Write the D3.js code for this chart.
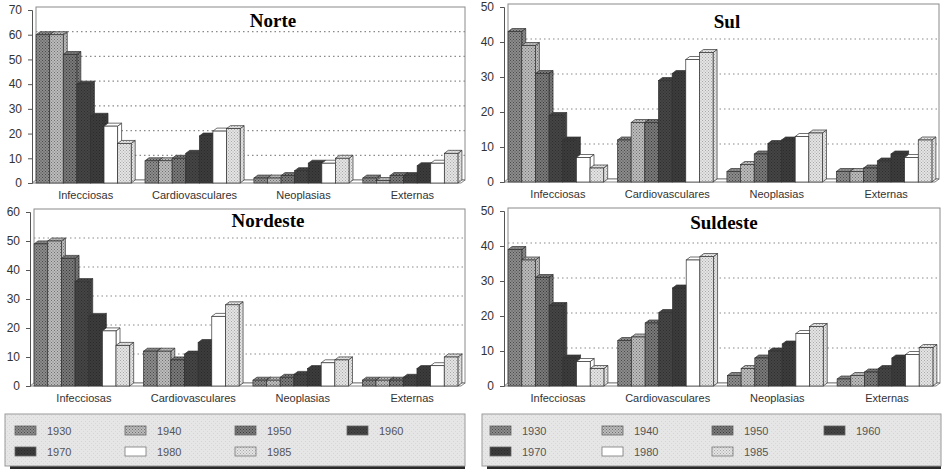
<!DOCTYPE html>
<html><head><meta charset="utf-8">
<script src="https://cdn.jsdelivr.net/npm/d3@7"></script>
<style>
html,body{margin:0;padding:0;background:#fff;}
svg{display:block;}
</style></head>
<body>
<svg id="chart" width="944" height="475"></svg>
<script>
// ---- data ----
const years = ["1930","1940","1950","1960","1970","1980","1985"];
const causes = ["Infecciosas","Cardiovasculares","Neoplasias","Externas"];
const regionNames = ["Norte","Sul","Nordeste","Suldeste"];
const norte    = [[60,60,52,40,27,23,16],[9,9,10,12,19,21,22],[2,2,3,5,8,8,10],[2,1,3,3,7,8,12]];
const sul      = [[43,39,31,19,12,7,4],[12,17,17,29,31,35,37],[3,5,8,11,12,13,14],[3,3,4,6,8,7,12]];
const nordeste = [[49,50,44,36,24,19,14],[12,12,9,11,15,24,28],[2,2,3,4,6,8,9],[2,2,2,3,6,7,10]];
const suldeste = [[39,36,31,23,8,7,5],[13,14,18,21,28,36,37],[3,5,8,10,12,15,17],[2,3,4,5,8,9,11]];
const yMaxes = [70,50,60,50];

// ---- styles ----
const svg = d3.select("#chart");
const defs = svg.append("defs");
const patSpecs = [
  {bg:"#8c8c8c", dot:"#4a4a4a"},
  {bg:"#bcbcbc", dot:"#707070"},
  {bg:"#7a7a7a", dot:"#3a3a3a"},
  {bg:"#454545", dot:"#2e2e2e"},
  {bg:"#3c3c3c", dot:"#2a2a2a"},
  {bg:"#ffffff", dot:"#ffffff"},
  {bg:"#e4e4e4", dot:"#a8a8a8"}
];
patSpecs.forEach((p,i)=>{
  const pat = defs.append("pattern").attr("id","pat"+i)
    .attr("width",3).attr("height",3).attr("patternUnits","userSpaceOnUse");
  pat.append("rect").attr("width",3).attr("height",3).attr("fill",p.bg);
  pat.append("rect").attr("x",0).attr("y",0).attr("width",1).attr("height",1).attr("fill",p.dot);
  pat.append("rect").attr("x",1.5).attr("y",1.5).attr("width",1).attr("height",1).attr("fill",p.dot);
});
const legBg = defs.append("pattern").attr("id","legbg").attr("width",4).attr("height",4).attr("patternUnits","userSpaceOnUse");
legBg.append("rect").attr("width",4).attr("height",4).attr("fill","#e6e6e6");
legBg.append("rect").attr("x",1).attr("y",1).attr("width",1).attr("height",1).attr("fill","#d4d4d4");
legBg.append("rect").attr("x",3).attr("y",3).attr("width",1).attr("height",1).attr("fill","#d8d8d8");

const panels = [
  {data:norte,    name:regionNames[0], ymax:yMaxes[0], ax:32,  right:465, top:10,  base:183, tx:273, ty:27},
  {data:sul,      name:regionNames[1], ymax:yMaxes[1], ax:504, right:939, top:7,   base:182, tx:727, ty:28},
  {data:nordeste, name:regionNames[2], ymax:yMaxes[2], ax:30,  right:465, top:212, base:386, tx:268, ty:227},
  {data:suldeste, name:regionNames[3], ymax:yMaxes[3], ax:504, right:940, top:211, base:386, tx:724, ty:229}
];
const DX = 4, DY = 3;

panels.forEach(P=>{
  const g = svg.append("g");
  const y = d3.scaleLinear().domain([0,P.ymax]).range([P.base,P.top]);
  const x = d3.scaleBand().domain(causes).range([P.ax+3, P.right-2]).paddingInner(0.09).paddingOuter(0.01);
  // back wall
  g.append("rect").attr("x",P.ax+DX).attr("y",P.top-DY)
    .attr("width",P.right-P.ax-DX).attr("height",P.base-P.top)
    .attr("fill","#fff").attr("stroke","#8a8a8a").attr("stroke-width",1);
  // gridlines
  const ticks = d3.range(0,P.ymax+1,10);
  g.selectAll(".grid").data(ticks.filter(t=>t>0 && t<P.ymax)).enter().append("line")
    .attr("x1",P.ax+DX).attr("x2",P.right)
    .attr("y1",d=>y(d)-DY).attr("y2",d=>y(d)-DY)
    .attr("stroke","#8a8a8a").attr("stroke-width",1.2).attr("stroke-dasharray","1.5,3");
  // floor
  g.append("polygon")
    .attr("points",[[P.ax,P.base],[P.ax+DX,P.base-DY],[P.right,P.base-DY],[P.right-DX,P.base]].map(p=>p.join(",")).join(" "))
    .attr("fill","#fff").attr("stroke","#666").attr("stroke-width",0.8);
  // y axis
  const axis = d3.axisLeft(y).tickValues(ticks).tickSize(4).tickPadding(6);
  const ag = g.append("g").attr("transform",`translate(${P.ax},0)`).call(axis);
  ag.select(".domain").attr("stroke","#555").attr("stroke-width",1);
  ag.selectAll(".tick line").attr("stroke","#555");
  ag.selectAll("text").attr("font-family","Liberation Sans, Arial, sans-serif").attr("font-size",12).attr("fill","#333");
  // bars
  causes.forEach((c,ci)=>{
    const bw = (x.bandwidth()-DX)/years.length;
    const x0 = x(c);
    P.data[ci].forEach((v,i)=>{
      const bx = x0 + i*bw, by = y(v), fill = `url(#pat${i})`;
      const bg = g.append("g");
      bg.append("polygon")
        .attr("points",[[bx+bw,by],[bx+bw+DX,by-DY],[bx+bw+DX,P.base-DY],[bx+bw,P.base]].map(p=>p.join(",")).join(" "))
        .attr("fill",fill).attr("stroke","#333").attr("stroke-width",0.7);
      bg.append("polygon")
        .attr("points",[[bx,by],[bx+DX,by-DY],[bx+bw+DX,by-DY],[bx+bw,by]].map(p=>p.join(",")).join(" "))
        .attr("fill",fill).attr("stroke","#333").attr("stroke-width",0.7);
      bg.append("rect").attr("x",bx).attr("y",by).attr("width",bw).attr("height",P.base-by)
        .attr("fill",fill).attr("stroke","#333").attr("stroke-width",0.7);
    });
    g.append("text").attr("x",x0+x.bandwidth()/2).attr("y",P.base+16)
      .attr("text-anchor","middle").attr("font-family","Liberation Sans, Arial, sans-serif")
      .attr("font-size",11).attr("fill","#333").text(c);
  });
  // title
  g.append("text").attr("x",P.tx).attr("y",P.ty).attr("text-anchor","middle")
    .attr("font-family","Liberation Serif, Times New Roman, serif").attr("font-weight","bold")
    .attr("font-size",19).attr("fill","#000").text(P.name);
});

// legends
const legends = [{x:5, right:465, cols:[15,125,235,347]},{x:482, right:941, cols:[490,602,712,824]}];
legends.forEach(L=>{
  const g = svg.append("g");
  g.append("rect").attr("x",L.x+5).attr("y",417).attr("width",L.right-L.x-5).attr("height",52).attr("fill","#2a2a2a");
  g.append("rect").attr("x",L.x).attr("y",414).attr("width",L.right-L.x).attr("height",52)
    .attr("fill","url(#legbg)").attr("stroke","#9a9a9a").attr("stroke-width",1);
  years.forEach((yr,i)=>{
    const col = i%4, row = Math.floor(i/4);
    const sx = L.cols[col], sy = 426 + row*21;
    g.append("rect").attr("x",sx).attr("y",sy).attr("width",21).attr("height",9)
      .attr("fill",`url(#pat${i})`).attr("stroke",i>=5?"#777":"#666").attr("stroke-width",0.8);
    g.append("text").attr("x",sx+32).attr("y",sy+8.5).attr("font-family","Liberation Sans, Arial, sans-serif")
      .attr("font-size",11).attr("fill","#555").text(yr);
  });
});
</script>
</body></html>
